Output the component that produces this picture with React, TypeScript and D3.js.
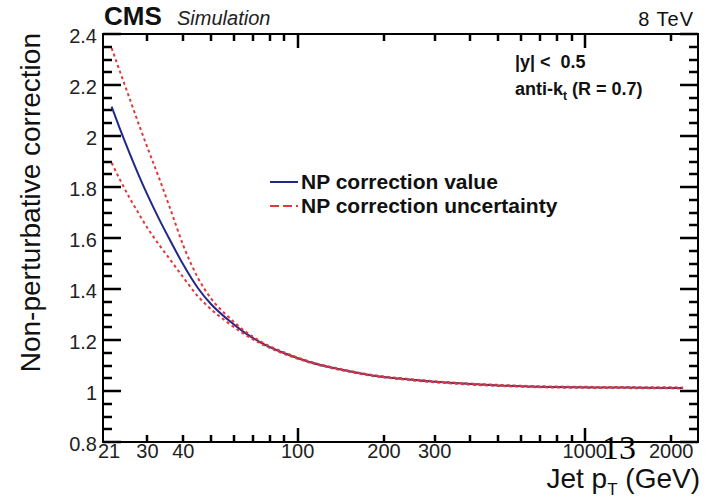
import React from "react";
import * as d3 from "d3";

// ---- data ----
const ptGrid = [22.5, 24, 26, 28, 30, 33, 36, 40, 45, 50, 57, 65, 75, 90, 110, 140, 180, 250, 350, 500, 750, 1100, 1600, 2200];
const npCentral = [2.115, 2.031, 1.932, 1.845, 1.769, 1.672, 1.590, 1.495, 1.403, 1.340, 1.281, 1.231, 1.188, 1.148, 1.114, 1.085, 1.062, 1.044, 1.031, 1.022, 1.016, 1.014, 1.013, 1.012];
const npUpper = [2.345, 2.256, 2.147, 2.045, 1.954, 1.832, 1.715, 1.570, 1.443, 1.362, 1.294, 1.238, 1.192, 1.151, 1.116, 1.087, 1.064, 1.046, 1.033, 1.024, 1.018, 1.016, 1.015, 1.014];
const npLower = [1.895, 1.831, 1.757, 1.695, 1.639, 1.572, 1.515, 1.445, 1.371, 1.320, 1.269, 1.224, 1.184, 1.145, 1.112, 1.083, 1.060, 1.042, 1.029, 1.020, 1.014, 1.012, 1.011, 1.010];

const xTickLabels = [21, 30, 40, 100, 200, 300, 1000, 2000];
const xMajorTicks = [100, 1000];
const xMinorTicks = [30, 40, 50, 60, 70, 80, 90, 200, 300, 400, 500, 600, 700, 800, 900, 2000];
const yTickLabels = [0.8, 1, 1.2, 1.4, 1.6, 1.8, 2, 2.2, 2.4];
const yMinorTicks = [0.85, 0.9, 0.95, 1.05, 1.1, 1.15, 1.25, 1.3, 1.35, 1.45, 1.5, 1.55, 1.65, 1.7, 1.75, 1.85, 1.9, 1.95, 2.05, 2.1, 2.15, 2.25, 2.3, 2.35];

const xDomain: [number, number] = [21, 2480];
const yDomain: [number, number] = [0.8, 2.4];

const legendItems = [
  { label: "NP correction value", kind: "central" },
  { label: "NP correction uncertainty", kind: "band" },
];

const BLUE = "#22288a";
const RED = "#e2383a";
const SANS = "'Liberation Sans', Arial, Helvetica, sans-serif";

export default function App() {
  const W = 712, H = 499;
  const L = 103, R = 698, T = 34, B = 442;
  const x = d3.scaleLog().domain(xDomain).range([L, R]);
  const y = d3.scaleLinear().domain(yDomain).range([B, T]);

  const line = (vals: number[]) =>
    d3
      .line<number>()
      .x((_, i) => x(ptGrid[i]))
      .y((v) => y(v))
      .curve(d3.curveMonotoneX)(vals) || "";

  const tw = 2.5; // tick thickness
  const ticks: { x: number; y: number; w: number; h: number }[] = [];
  xMajorTicks.forEach((t) => {
    const px = Math.round(x(t));
    ticks.push({ x: px - tw / 2, y: B - 14, w: tw, h: 14 });
    ticks.push({ x: px - tw / 2, y: T, w: tw, h: 14 });
  });
  xMinorTicks.forEach((t) => {
    const px = Math.round(x(t));
    ticks.push({ x: px - tw / 2, y: B - 7, w: tw, h: 7 });
    ticks.push({ x: px - tw / 2, y: T, w: tw, h: 7 });
  });
  yTickLabels.forEach((t) => {
    const py = Math.round(y(t));
    ticks.push({ x: L, y: py - tw / 2, w: 18, h: tw });
    ticks.push({ x: R - 18, y: py - tw / 2, w: 18, h: tw });
  });
  yMinorTicks.forEach((t) => {
    const py = Math.round(y(t));
    ticks.push({ x: L, y: py - tw / 2, w: 9, h: tw });
    ticks.push({ x: R - 9, y: py - tw / 2, w: 9, h: tw });
  });

  return (
    <svg width={W} height={H} style={{ position: "absolute", left: 0, top: 0, background: "#fff" }} fontFamily={SANS}>
      {/* curves */}
      <path d={line(npCentral)} fill="none" stroke={BLUE} strokeWidth={2} />
      <path d={line(npUpper)} fill="none" stroke={RED} strokeWidth={2} strokeDasharray="3,3" />
      <path d={line(npLower)} fill="none" stroke={RED} strokeWidth={2} strokeDasharray="3,3" />

      {/* frame + ticks */}
      <rect x={L} y={T} width={R - L} height={B - T} fill="none" stroke="#000" strokeWidth={2} />
      {ticks.map((k, i) => (
        <rect key={i} x={k.x} y={k.y} width={k.w} height={k.h} fill="#000" />
      ))}

      {xTickLabels.map((t, i) => (
        <text key={"xl" + t} x={x(t) + (i === 0 ? 6 : 0)} y={458} fontSize={20} textAnchor="middle" fill="#222">
          {t}
        </text>
      ))}
      {yTickLabels.map((t) => (
        <text key={"yl" + t} x={97} y={y(t) + 9} fontSize={20} textAnchor="end" fill="#222">
          {t}
        </text>
      ))}

      {/* axis titles */}
      <text transform={`translate(40,33) rotate(-90)`} fontSize={28} textAnchor="end" fill="#111">
        Non-perturbative correction
      </text>
      <text x={700} y={488} fontSize={28} textAnchor="end" fill="#111">
        Jet p<tspan fontSize={17} dy={7}>T</tspan>
        <tspan dy={-7}> (GeV)</tspan>
      </text>

      {/* header */}
      <text x={104} y={25} fontSize={26} fontWeight="bold" fill="#111">CMS</text>
      <text x={177} y={25} fontSize={20} fontStyle="italic" fill="#222">Simulation</text>
      <text x={694} y={26} fontSize={20} textAnchor="end" fill="#111" letterSpacing={1}>8 TeV</text>

      {/* annotations */}
      <text x={515} y={68} fontSize={18} fontWeight="bold" fill="#111" style={{ whiteSpace: "pre" }}>
        {"|y| <  0.5"}
      </text>
      <text x={515} y={95} fontSize={18} fontWeight="bold" fill="#111">
        anti-k<tspan fontSize={12} dy={5}>t</tspan>
        <tspan dy={-5}> (R = 0.7)</tspan>
      </text>

      {/* legend */}
      {legendItems.map((it, i) => {
        const ly = 182 + i * 24;
        return (
          <g key={it.label}>
            <line
              x1={270}
              x2={298}
              y1={ly}
              y2={ly}
              stroke={it.kind === "central" ? BLUE : RED}
              strokeWidth={2}
              strokeDasharray={it.kind === "central" ? undefined : "9,4"}
            />
            <text x={301} y={ly + 7} fontSize={21} fontWeight="bold" fill="#111">
              {it.label}
            </text>
          </g>
        );
      })}

      {/* page number artefact */}
      <text x={602} y={459} fontSize={34} fontFamily="'Liberation Serif', 'Times New Roman', serif" fill="#000">13</text>
    </svg>
  );
}
